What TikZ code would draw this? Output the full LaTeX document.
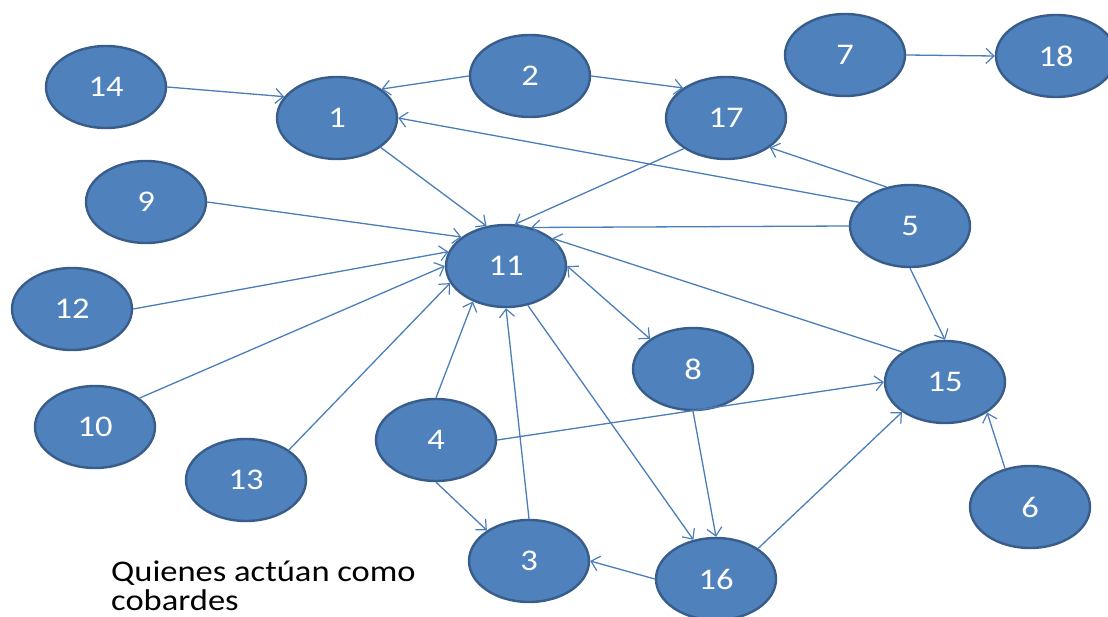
\documentclass[tikz,border=0pt]{standalone}
\usepackage{fontspec}
\setmainfont{Carlito}
\usetikzlibrary{shapes.geometric,arrows.meta}
\definecolor{nodefill}{HTML}{4F81BD}
\definecolor{nodeborder}{HTML}{385D8A}
\definecolor{edgecol}{HTML}{4A7EBB}
\newcommand{\wide}[1]{\scalebox{1.15}[1]{#1}}
\tikzset{
  vert/.style={ellipse, fill=nodefill, draw=nodeborder, line width=2.4pt,
    minimum width=120pt, minimum height=82pt, inner sep=0pt,
    text=white, font=\fontsize{30}{31}\selectfont},
  barb/.tip={Straight Barb[length=8pt,width=15pt,line width=1.2pt]},
  edge/.style={draw=edgecol, line width=1.3pt, -barb},
  biedge/.style={draw=edgecol, line width=1.3pt, barb-barb}
}
\begin{document}
\begin{tikzpicture}[x=1pt,y=-1pt]
\useasboundingbox (0,0) rectangle (1108,617);
\node[vert] (n14) at (106,87) {\wide{14}};
\node[vert] (n1) at (337,118) {\wide{1}};
\node[vert] (n2) at (530,76) {\wide{2}};
\node[vert] (n17) at (726,118) {\wide{17}};
\node[vert] (n7) at (845,55) {\wide{7}};
\node[vert] (n18) at (1056,56) {\wide{18}};
\node[vert] (n9) at (146,202) {\wide{9}};
\node[vert] (n5) at (910,226) {\wide{5}};
\node[vert] (n11) at (506,266) {\wide{11}};
\node[vert] (n12) at (72,309) {\wide{12}};
\node[vert] (n8) at (693,369) {\wide{8}};
\node[vert] (n15) at (945,382) {\wide{15}};
\node[vert] (n10) at (95,427) {\wide{10}};
\node[vert] (n4) at (436,440) {\wide{4}};
\node[vert] (n13) at (246,480) {\wide{13}};
\node[vert] (n6) at (1030,507) {\wide{6}};
\node[vert] (n3) at (529,561) {\wide{3}};
\node[vert] (n16) at (716,579) {\wide{16}};
\node[anchor=south west, align=left, font=\fontsize{30}{29.5}\selectfont, inner sep=0pt, text depth=0pt] (cap) at (111,611) {\scalebox{1.15}[1]{Quienes actúan como}\\\scalebox{1.15}[1]{cobardes}};

\draw[edge] (n14.east) -- (n1.158);
\draw[edge] (n2.west) -- (n1.33);
\draw[edge] (n2.east) -- (n17.145);
\draw[edge] (n7.east) -- (n18.west);
\draw[edge] (n5.155) -- (n1.east);
\draw[edge] (n5.121) -- (n17.-34);
\draw[edge] (n5.west) -- (n11.57);
\draw[edge] (n5.south) -- (n15.north);
\draw[edge] (n1.-34) -- (n11.116);
\draw[edge] (n17.216) -- (n11.78);
\draw[edge] (n9.east) -- (n11.147);
\draw[edge] (n12.east) -- (n11.166);
\draw[edge] (n10.33) -- (n11.west);
\draw[edge] (n13.35) -- (n11.197);
\draw[edge] (n4.north) -- (n11.227);
\draw[edge] (n3.north) -- (n11.south);
\draw[biedge] (n11.east) -- (n8.145);
\draw[edge] (n11.-61) -- (n16.120);
\draw[edge] (n15.145) -- (n11.31);
\draw[edge] (n8.south) -- (n16.north);
\draw[edge] (n4.east) -- (n15.west);
\draw[edge] (n4.south) -- (n3.144);
\draw[edge] (n16.west) -- (n3.east);
\draw[edge] (n16.36) -- (n15.215);
\draw[edge] (n6.123) -- (n15.-36);
\end{tikzpicture}
\end{document}
